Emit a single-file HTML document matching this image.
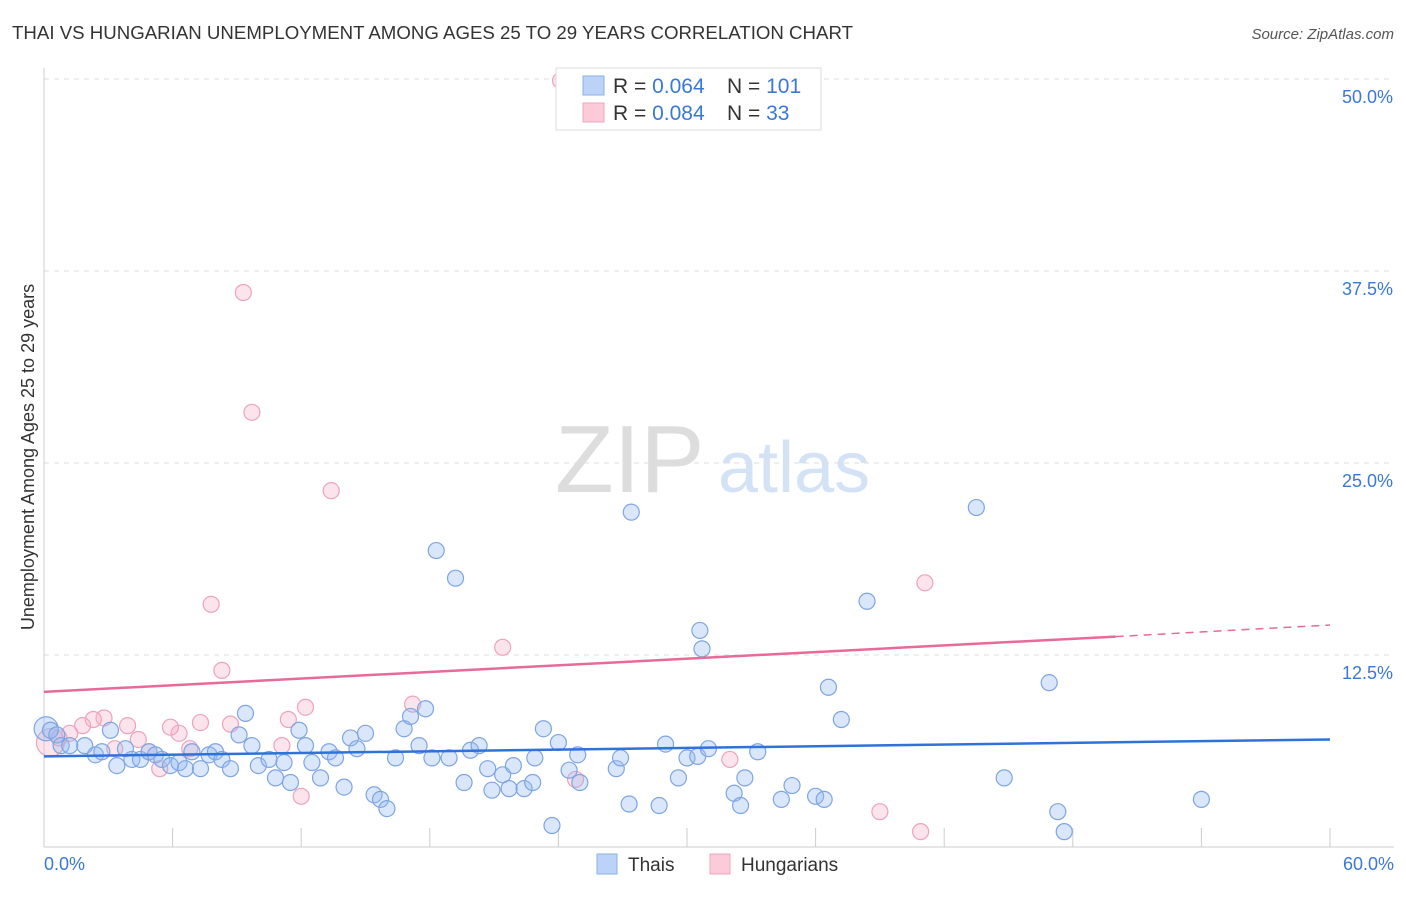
<!DOCTYPE html>
<html><head><meta charset="utf-8"><style>
body{margin:0;background:#fff;font-family:"Liberation Sans",sans-serif;}
svg text{font-family:"Liberation Sans",sans-serif;}
</style></head><body>
<svg id="chart" width="1406" height="892">
<text x="12" y="39" font-size="18" fill="#333" textLength="841" lengthAdjust="spacingAndGlyphs">THAI VS HUNGARIAN UNEMPLOYMENT AMONG AGES 25 TO 29 YEARS CORRELATION CHART</text>
<text x="1394" y="39" font-size="15" fill="#555" font-style="italic" text-anchor="end">Source: ZipAtlas.com</text>
<text x="34" y="457" font-size="18" fill="#333" text-anchor="middle" transform="rotate(-90 34 457)">Unemployment Among Ages 25 to 29 years</text>
<g><text x="555" y="492" font-size="96" fill="#ddd" font-family="Liberation Serif,serif">ZIP</text><text x="718" y="492" font-size="72" fill="#d4e2f6">atlas</text></g>
<g id="grid"></g><g id="marks"></g>
<g>
<rect x="556" y="68" width="265" height="62" fill="#fff" stroke="#ddd"/>
<rect x="583" y="76" width="21" height="19" fill="#bcd3f7" stroke="#8ab0e8"/>
<rect x="583" y="103" width="21" height="19" fill="#fbcbd9" stroke="#f0a6bd"/>
<text x="613" y="93" font-size="21" fill="#333">R = <tspan fill="#3a78d8">0.064</tspan></text>
<text x="727" y="93" font-size="21" fill="#333">N = <tspan fill="#3a78d8">101</tspan></text>
<text x="613" y="120" font-size="21" fill="#333">R = <tspan fill="#3a78d8">0.084</tspan></text>
<text x="727" y="120" font-size="21" fill="#333">N = <tspan fill="#3a78d8"> 33</tspan></text>
</g>
<g>
<rect x="597" y="854" width="20" height="20" fill="#bcd3f7" stroke="#8ab0e8"/><text x="628" y="871" font-size="19" fill="#333">Thais</text>
<rect x="710" y="854" width="20" height="20" fill="#fbcbd9" stroke="#f0a6bd"/><text x="741" y="871" font-size="19" fill="#333">Hungarians</text>
</g>
</svg>
<script>
const yTicks=[12.5,25,37.5,50];
const yTickLabels=["12.5%","25.0%","37.5%","50.0%"];
const xTickLabels=["0.0%","60.0%"];
const thaiX=[0.1,0.3,0.6,0.8,1.2,1.9,2.4,2.7,3.1,3.4,3.8,4.1,4.5,4.9,5.2,5.5,5.9,6.3,6.6,6.9,7.3,7.7,8.0,8.3,8.7,9.1,9.4,9.7,10.0,10.5,10.8,11.2,11.5,11.9,12.2,12.5,12.9,13.3,13.6,14.0,14.3,14.6,15.0,15.4,15.7,16.0,16.4,16.8,17.1,17.5,17.8,18.1,18.3,18.9,19.2,19.6,19.9,20.3,20.7,20.9,21.4,21.7,21.9,22.4,22.8,22.9,23.3,23.7,24.0,24.5,24.9,25.0,26.7,26.9,27.3,27.4,28.7,29.0,29.6,30.0,30.6,30.7,30.5,31.0,32.2,32.5,32.7,33.3,34.4,34.9,36.0,36.4,36.6,37.2,38.4,43.5,44.8,46.9,47.3,47.6,54.0];
const thaiY=[7.7,7.6,7.3,6.6,6.6,6.6,6.0,6.2,7.6,5.3,6.4,5.7,5.7,6.2,6.0,5.7,5.3,5.5,5.1,6.2,5.1,6.0,6.2,5.7,5.1,7.3,8.7,6.6,5.3,5.7,4.5,5.5,4.2,7.6,6.6,5.5,4.5,6.2,5.8,3.9,7.1,6.4,7.4,3.4,3.1,2.5,5.8,7.7,8.5,6.6,9.0,5.8,19.3,5.8,17.5,4.2,6.3,6.6,5.1,3.7,4.7,3.8,5.3,3.8,4.2,5.8,7.7,1.4,6.8,5.0,6.0,4.2,5.1,5.8,2.8,21.8,2.7,6.7,4.5,5.8,14.1,12.9,5.9,6.4,3.5,2.7,4.5,6.2,3.1,4.0,3.3,3.1,10.4,8.3,16.0,22.1,4.5,10.7,2.3,1.0,3.1];
const hunX=[0.3,24.1,9.3,9.7,13.4,7.8,8.3,21.4,41.1,12.2,11.4,17.2,8.7,7.3,6.3,5.9,4.4,3.9,2.8,2.3,1.8,1.2,0.7,3.3,4.9,5.4,6.8,11.1,12.0,24.8,32.0,39.0,40.9];
const hunY=[6.8,49.9,36.1,28.3,23.2,15.8,11.5,13.0,17.2,9.1,8.3,9.3,8.0,8.1,7.4,7.8,7.0,7.9,8.4,8.3,7.9,7.4,7.1,6.4,6.2,5.1,6.4,6.6,3.3,4.4,5.7,2.3,1.0];
const thaiTrend=[5.9,7.0];
const hunTrend=[10.1,13.7,14.45];
const NS="http://www.w3.org/2000/svg";
const X=v=>44+v*(1286/60), Y=v=>847-v*15.36;
function mk(t,a,p){const e=document.createElementNS(NS,t);for(const k in a)e.setAttribute(k,a[k]);p.appendChild(e);return e;}
const grid=document.getElementById('grid'), marks=document.getElementById('marks');
yTicks.forEach((t,i)=>{
 const l=mk('line',{x1:44,x2:1394,y1:Y(t),y2:Y(t),stroke:'#ddd','stroke-dasharray':'5,5'},grid);
 
 
 const tx=mk('text',{x:1393,y:Y(t)+24,'font-size':18,fill:'#3a78d8','text-anchor':'end'},grid);tx.textContent=yTickLabels[i];
 
 
});
mk('line',{x1:44,x2:44,y1:68,y2:847,stroke:'#ccc'},grid);
mk('line',{x1:44,x2:1394,y1:847,y2:847,stroke:'#ccc'},grid);
for(let i=0;i<=10;i++){const t=mk('line',{x1:X(i*6),x2:X(i*6),y1:828,y2:847,stroke:'#ccc'},grid);
 
 }
[[0,'start',44],[60,'end',1394]].forEach((d,i)=>{const tx=mk('text',{x:d[2],y:870,'font-size':18,fill:'#3a78d8','text-anchor':d[1]},grid);tx.textContent=xTickLabels[i];
 
 });
function dots(xs,ys,fill,stroke,name,bigR){xs.forEach((x,i)=>{const c=mk('circle',{cx:X(x),cy:Y(ys[i]),r:i===0?bigR:8,fill:fill,stroke:stroke,'stroke-width':1.2},marks);
 
 });}
dots(hunX,hunY,'rgba(246,178,200,0.35)','#eda3bb','hungarian-point',14);
dots(thaiX,thaiY,'rgba(150,185,240,0.35)','#7ea5e3','thai-point',12);
const bl=mk('line',{x1:X(0),y1:Y(thaiTrend[0]),x2:X(60),y2:Y(thaiTrend[1]),stroke:'#2f72d9','stroke-width':2.5},marks);


const pl=mk('line',{x1:X(0),y1:Y(hunTrend[0]),x2:X(50),y2:Y(hunTrend[1]),stroke:'#e86a98','stroke-width':2.5},marks);


const pd=mk('line',{x1:X(50),y1:Y(hunTrend[1]),x2:X(60),y2:Y(hunTrend[2]),stroke:'#e86a98','stroke-width':1.5,'stroke-dasharray':'8,6'},marks);


</script>
</body></html>
